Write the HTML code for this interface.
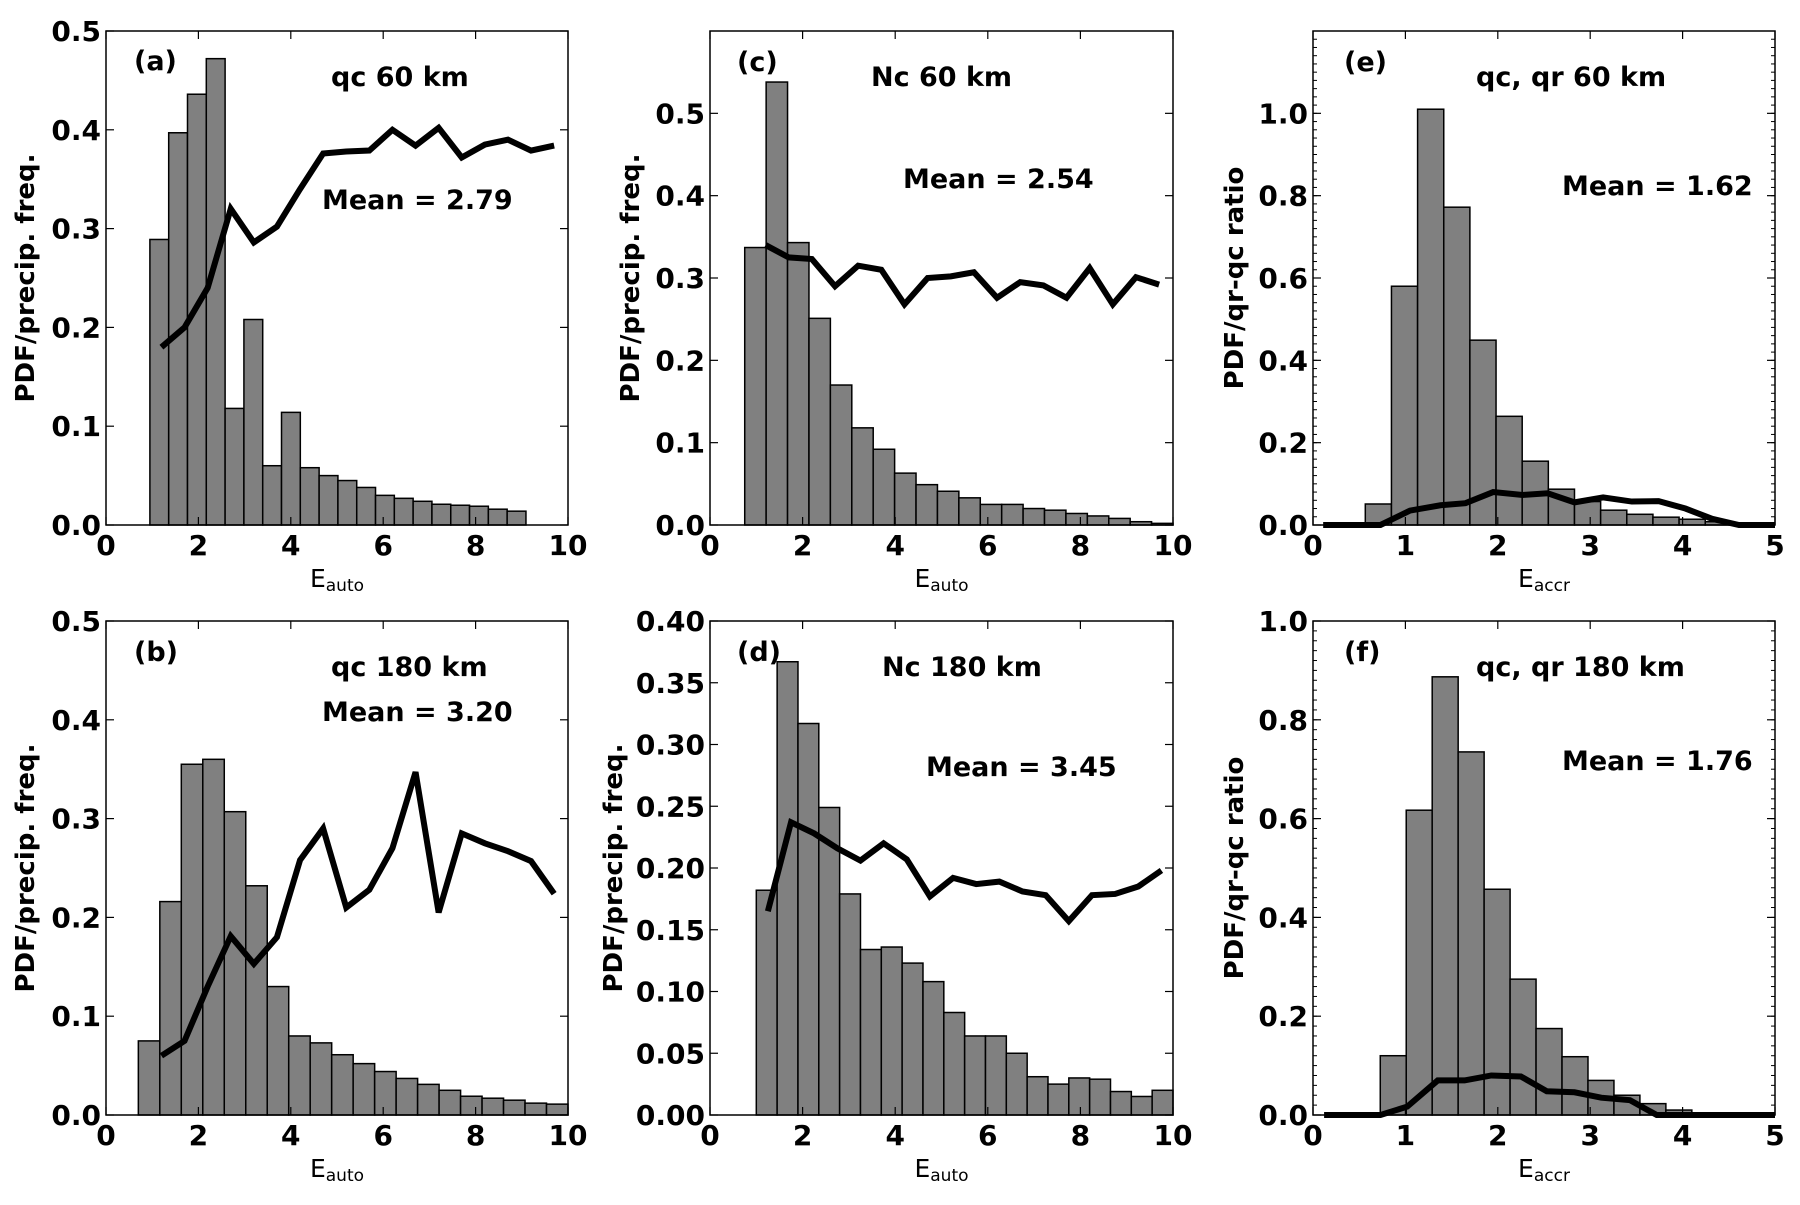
<!DOCTYPE html>
<html><head><meta charset="utf-8"><style>
body{margin:0;background:#fff}
svg text{font-family:"DejaVu Sans","Liberation Sans",sans-serif}
</style></head><body>
<svg id="fig" xmlns="http://www.w3.org/2000/svg" width="1800" height="1200" viewBox="0 0 1800 1200">
<rect width="1800" height="1200" fill="#fff"/>
</svg>
<script>
// Panel (a)
const aBars = [0.289,0.397,0.436,0.472,0.118,0.208,0.060,0.114,0.058,0.050,0.045,0.038,0.030,0.027,0.024,0.021,0.020,0.019,0.016,0.014];
const aLineX = [1.2,1.7,2.2,2.7,3.2,3.7,4.2,4.7,5.2,5.7,6.2,6.7,7.2,7.7,8.2,8.7,9.2,9.7];
const aLineY = [0.18,0.20,0.24,0.32,0.286,0.302,0.34,0.376,0.378,0.379,0.40,0.384,0.402,0.372,0.385,0.39,0.379,0.384];
// Panel (b)
const bBars = [0.075,0.216,0.355,0.36,0.307,0.232,0.13,0.08,0.073,0.061,0.052,0.044,0.037,0.031,0.025,0.019,0.017,0.015,0.012,0.011];
const bLineX = [1.2,1.7,2.2,2.7,3.2,3.7,4.2,4.7,5.2,5.7,6.2,6.7,7.2,7.7,8.2,8.7,9.2,9.7];
const bLineY = [0.06,0.075,0.13,0.181,0.153,0.18,0.258,0.29,0.21,0.228,0.27,0.347,0.205,0.285,0.275,0.267,0.257,0.224];
// Panel (c)
const cBars = [0.337,0.538,0.343,0.251,0.17,0.118,0.092,0.063,0.049,0.041,0.033,0.025,0.025,0.02,0.018,0.014,0.011,0.008,0.004,0.002];
const cLineX = [1.2,1.7,2.2,2.7,3.2,3.7,4.2,4.7,5.2,5.7,6.2,6.7,7.2,7.7,8.2,8.7,9.2,9.7];
const cLineY = [0.34,0.325,0.323,0.29,0.315,0.31,0.268,0.30,0.302,0.307,0.276,0.295,0.291,0.276,0.312,0.268,0.301,0.292];
// Panel (d)
const dBars = [0.182,0.367,0.317,0.249,0.179,0.134,0.136,0.123,0.108,0.083,0.064,0.064,0.05,0.031,0.025,0.03,0.029,0.019,0.015,0.02];
const dLineX = [1.25,1.75,2.25,2.75,3.25,3.75,4.25,4.75,5.25,5.75,6.25,6.75,7.25,7.75,8.25,8.75,9.25,9.75];
const dLineY = [0.165,0.237,0.228,0.216,0.206,0.22,0.207,0.177,0.192,0.187,0.189,0.181,0.178,0.157,0.178,0.179,0.185,0.198];
// Panel (e)
const eBars = [0.051,0.58,1.01,0.772,0.449,0.264,0.155,0.087,0.057,0.036,0.026,0.019,0.014,0.008];
const eLineX = [0.11,0.73,1.05,1.38,1.65,1.95,2.27,2.54,2.83,3.14,3.45,3.74,4.03,4.32,4.61,5.0];
const eLineY = [0,0,0.035,0.048,0.053,0.08,0.073,0.077,0.055,0.067,0.057,0.058,0.04,0.015,0,0];
// Panel (f)
const fBars = [0.12,0.617,0.887,0.735,0.457,0.275,0.175,0.118,0.07,0.04,0.023,0.01,0.003];
const fLineX = [0.12,0.73,1.02,1.35,1.64,1.93,2.25,2.53,2.83,3.12,3.43,3.72,5.0];
const fLineY = [0,0,0.017,0.07,0.07,0.08,0.078,0.048,0.046,0.035,0.03,0,0];
// Tick labels
const xTicks10 = ["0","2","4","6","8","10"];
const xTicks5 = ["0","1","2","3","4","5"];
const yTicksA = ["0.0","0.1","0.2","0.3","0.4","0.5"];
const yTicksC = ["0.0","0.1","0.2","0.3","0.4","0.5"];
const yTicksD = ["0.00","0.05","0.10","0.15","0.20","0.25","0.30","0.35","0.40"];
const yTicksE = ["0.0","0.2","0.4","0.6","0.8","1.0"];

const NS="http://www.w3.org/2000/svg";
const svg=document.getElementById('fig');
function mk(tag,attrs,parent){const e=document.createElementNS(NS,tag);for(const k in attrs)e.setAttribute(k,attrs[k]);(parent||svg).appendChild(e);return e;}

function panel(p){
  const g=mk('g',{});
  
  
  const W=p.w,H=p.h;
  const sx=v=>p.x0+(v-p.xmin)/(p.xmax-p.xmin)*W;
  const sy=v=>p.y0+H-(v-p.ymin)/(p.ymax-p.ymin)*H;
  p.bars.forEach((v,i)=>{
    const xa=sx(p.bStart+i*p.bW), xb=sx(p.bStart+(i+1)*p.bW);
    const r=mk('rect',{x:xa,y:sy(v),width:xb-xa,height:sy(0)-sy(v),fill:'#808080',stroke:'#000','stroke-width':1.5},g);
    
    
  });
  const pts=p.lx.map((x,i)=>sx(x)+','+sy(p.ly[i])).join(' ');
  const pl=mk('polyline',{points:pts,fill:'none',stroke:'#000','stroke-width':6,'stroke-linejoin':'miter'},g);
  
  
  const fr=mk('rect',{x:p.x0,y:p.y0,width:W,height:H,fill:'none',stroke:'#000','stroke-width':1.5},g);
  
  
  if(p.yMinor){
    for(let v=p.ymin;v<=p.ymax+1e-9;v+=p.yMinor){
      const y=sy(v);
      mk('line',{x1:p.x0,x2:p.x0+4,y1:y,y2:y,stroke:'#000','stroke-width':1},g);
      mk('line',{x1:p.x0+W,x2:p.x0+W-4,y1:y,y2:y,stroke:'#000','stroke-width':1},g);
    }
  }
  p.xt.forEach((t,i)=>{
    const x=sx(parseFloat(t));
    mk('line',{x1:x,x2:x,y1:p.y0+H,y2:p.y0+H-8,stroke:'#000','stroke-width':1.2},g);
    mk('line',{x1:x,x2:x,y1:p.y0,y2:p.y0+8,stroke:'#000','stroke-width':1.2},g);
    const tx=mk('text',{x:x,y:p.y0+H+30,'font-size':28,'font-weight':'bold','text-anchor':'middle'},g);
    tx.textContent=t;
    
    
  });
  p.yt.forEach(t=>{
    const y=sy(parseFloat(t));
    mk('line',{x1:p.x0,x2:p.x0+8,y1:y,y2:y,stroke:'#000','stroke-width':1.2},g);
    mk('line',{x1:p.x0+W,x2:p.x0+W-8,y1:y,y2:y,stroke:'#000','stroke-width':1.2},g);
    const tx=mk('text',{x:p.x0-5,y:y+10,'font-size':28,'font-weight':'bold','text-anchor':'end'},g);
    tx.textContent=t;
    
    
  });
  const yl=mk('text',{x:0,y:0,'font-size':26,'font-weight':'bold','text-anchor':'middle',transform:`translate(${p.ylx},${p.y0+H/2}) rotate(-90)`},g);
  yl.textContent=p.ylabel;
  
  
  const xl=mk('text',{x:p.x0+W/2,y:p.y0+H+62,'font-size':25,'text-anchor':'middle'},g);
  xl.innerHTML='E<tspan font-size="17" dy="4">'+p.xsub+'</tspan>';
  
  
  p.texts.forEach(([s,x,y],i)=>{
    const t=mk('text',{x:x,y:y+10,'font-size':27,'font-weight':'bold'},g);
    t.textContent=s;
    
    
  });
}
const W=462,H=494;
panel({id:'a',x0:106,y0:31,w:W,h:H,xmin:0,xmax:10,ymin:0,ymax:0.5,bars:aBars,bStart:0.95,bW:0.407,lx:aLineX,ly:aLineY,xt:xTicks10,yt:yTicksA,ylabel:'PDF/precip. freq.',ylx:34,xsub:'auto',texts:[['(a)',134,60],['qc 60 km',331,76],['Mean = 2.79',322,199]]});
panel({id:'b',x0:106,y0:621,w:W,h:H,xmin:0,xmax:10,ymin:0,ymax:0.5,bars:bBars,bStart:0.7,bW:0.465,lx:bLineX,ly:bLineY,xt:xTicks10,yt:yTicksA,ylabel:'PDF/precip. freq.',ylx:34,xsub:'auto',texts:[['(b)',134,651],['qc 180 km',331,666],['Mean = 3.20',322,711]]});
panel({id:'c',x0:710,y0:31,w:W+1,h:H,xmin:0,xmax:10,ymin:0,ymax:0.6,bars:cBars,bStart:0.75,bW:0.4625,lx:cLineX,ly:cLineY,xt:xTicks10,yt:yTicksC,ylabel:'PDF/precip. freq.',ylx:639,xsub:'auto',texts:[['(c)',737,61],['Nc 60 km',871,76],['Mean = 2.54',903,178]]});
panel({id:'d',x0:710,y0:621,w:W+1,h:H,xmin:0,xmax:10,ymin:0,ymax:0.4,bars:dBars,bStart:1.0,bW:0.45,lx:dLineX,ly:dLineY,xt:xTicks10,yt:yTicksD,ylabel:'PDF/precip. freq.',ylx:622,xsub:'auto',texts:[['(d)',737,651],['Nc 180 km',882,666],['Mean = 3.45',926,766]]});
panel({id:'e',x0:1313,y0:31,w:W,h:H,xmin:0,xmax:5,ymin:0,ymax:1.2,bars:eBars,bStart:0.566,bW:0.283,lx:eLineX,ly:eLineY,xt:xTicks5,yt:yTicksE,yMinor:0.02,ylabel:'PDF/qr-qc ratio',ylx:1243,xsub:'accr',texts:[['(e)',1344,61],['qc, qr 60 km',1476,76],['Mean = 1.62',1562,185]]});
panel({id:'f',x0:1313,y0:621,w:W,h:H,xmin:0,xmax:5,ymin:0,ymax:1.0,bars:fBars,bStart:0.728,bW:0.281,lx:fLineX,ly:fLineY,xt:xTicks5,yt:yTicksE,yMinor:0.02,ylabel:'PDF/qr-qc ratio',ylx:1243,xsub:'accr',texts:[['(f)',1344,651],['qc, qr 180 km',1476,666],['Mean = 1.76',1562,760]]});
</script>
</body></html>
